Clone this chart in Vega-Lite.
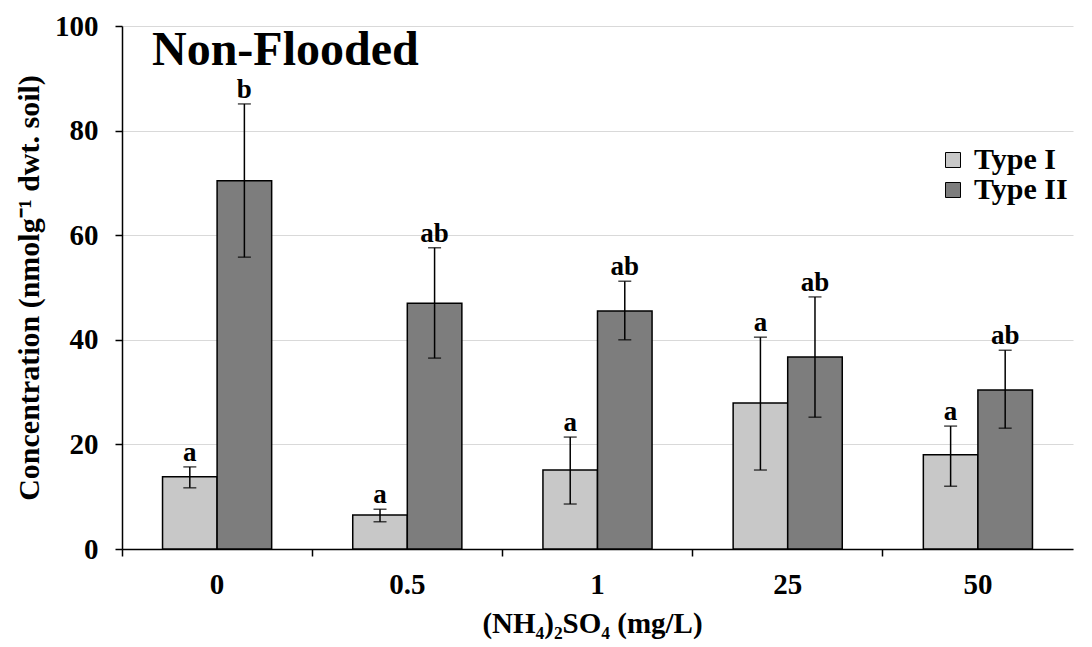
{
  "$schema": "https://vega.github.io/schema/vega-lite/v6.json",
  "width": 951,
  "height": 523,
  "autosize": {"type": "none"},
  "padding": {"left": 122, "top": 26, "right": 19, "bottom": 98},
  "background": "white",
  "config": {"view": {"stroke": null}, "font": "Liberation Serif"},
  "title": {
    "text": "Non-Flooded",
    "anchor": "start",
    "frame": "group",
    "orient": "top",
    "offset": -41,
    "dx": 30,
    "dy": 60,
    "baseline": "alphabetic",
    "font": "Liberation Serif",
    "fontSize": 48,
    "fontWeight": "bold",
    "color": "black"
  },
  "data": {
    "values": [
      {"conc": "0", "type": "Type I", "mean": 13.8, "lower": 11.7, "upper": 15.7, "sig": "a"},
      {"conc": "0", "type": "Type II", "mean": 70.4, "lower": 55.8, "upper": 85.1, "sig": "b"},
      {"conc": "0.5", "type": "Type I", "mean": 6.5, "lower": 5.2, "upper": 7.6, "sig": "a"},
      {"conc": "0.5", "type": "Type II", "mean": 47.0, "lower": 36.5, "upper": 57.6, "sig": "ab"},
      {"conc": "1", "type": "Type I", "mean": 15.1, "lower": 8.6, "upper": 21.4, "sig": "a"},
      {"conc": "1", "type": "Type II", "mean": 45.5, "lower": 40.0, "upper": 51.2, "sig": "ab"},
      {"conc": "25", "type": "Type I", "mean": 27.9, "lower": 15.1, "upper": 40.5, "sig": "a"},
      {"conc": "25", "type": "Type II", "mean": 36.7, "lower": 25.2, "upper": 48.2, "sig": "ab"},
      {"conc": "50", "type": "Type I", "mean": 18.0, "lower": 12.0, "upper": 23.5, "sig": "a"},
      {"conc": "50", "type": "Type II", "mean": 30.4, "lower": 23.1, "upper": 38.0, "sig": "ab"}
    ]
  },
  "encoding": {
    "x": {
      "field": "conc",
      "type": "nominal",
      "scale": {"domain": ["0", "0.5", "1", "25", "50"], "paddingInner": 0, "paddingOuter": 0},
      "axis": {
        "title": "(NH₄)₂SO₄  (mg/L)",
        "labelAngle": 0,
        "bandPosition": 0,
        "domainColor": "black",
        "domainWidth": 1.5,
        "tickColor": "black",
        "tickWidth": 1.5,
        "tickSize": 7,
        "labelFont": "Liberation Serif",
        "labelFontWeight": "bold",
        "labelFontSize": 29,
        "labelColor": "black",
        "labelPadding": 14,
        "titleFont": "Liberation Serif",
        "titleFontWeight": "bold",
        "titleFontSize": 29,
        "titleColor": "black",
        "titlePadding": 10,
        "titleX": 470
      }
    },
    "xOffset": {
      "field": "type",
      "type": "nominal",
      "scale": {"domain": ["Type I", "Type II"], "paddingInner": 0, "paddingOuter": 0.743}
    }
  },
  "layer": [
    {
      "mark": {"type": "bar", "stroke": "black", "strokeWidth": 1.5},
      "encoding": {
        "y": {
          "field": "mean",
          "type": "quantitative",
          "scale": {"domain": [0, 100]},
          "axis": {
            "title": "Concentration (nmolg⁻¹ dwt. soil)",
            "values": [0, 20, 40, 60, 80, 100],
            "grid": true,
            "gridColor": "#d9d9d9",
            "gridWidth": 1,
            "domainColor": "black",
            "domainWidth": 1.5,
            "tickColor": "black",
            "tickWidth": 1.5,
            "tickSize": 7,
            "labelFont": "Liberation Serif",
            "labelFontWeight": "bold",
            "labelFontSize": 29,
            "labelColor": "black",
            "labelPadding": 17,
            "titleFont": "Liberation Serif",
            "titleFontWeight": "bold",
            "titleFontSize": 30,
            "titleColor": "black",
            "titlePadding": 10
          }
        },
        "color": {
          "field": "type",
          "type": "nominal",
          "scale": {"domain": ["Type I", "Type II"], "range": ["#c8c8c8", "#7d7d7d"]},
          "legend": {
            "title": null,
            "orient": "none",
            "legendX": 816,
            "legendY": 119,
            "symbolType": "square",
            "symbolSize": 225,
            "symbolStrokeColor": "black",
            "symbolStrokeWidth": 1,
            "labelFont": "Liberation Serif",
            "labelFontWeight": "bold",
            "labelFontSize": 30,
            "labelColor": "black",
            "rowPadding": -4,
            "labelOffset": 6
          }
        }
      }
    },
    {
      "mark": {"type": "rule", "color": "black", "strokeWidth": 1.5},
      "encoding": {
        "y": {"field": "lower", "type": "quantitative"},
        "y2": {"field": "upper"}
      }
    },
    {
      "mark": {"type": "tick", "color": "black", "size": 13, "thickness": 1.5},
      "encoding": {"y": {"field": "upper", "type": "quantitative"}}
    },
    {
      "mark": {"type": "tick", "color": "black", "size": 13, "thickness": 1.5},
      "encoding": {"y": {"field": "lower", "type": "quantitative"}}
    },
    {
      "mark": {"type": "text", "font": "Liberation Serif", "fontWeight": "bold", "fontSize": 27, "baseline": "bottom", "dy": 0, "color": "black"},
      "encoding": {
        "y": {"field": "upper", "type": "quantitative"},
        "text": {"field": "sig"}
      }
    }
  ]
}
